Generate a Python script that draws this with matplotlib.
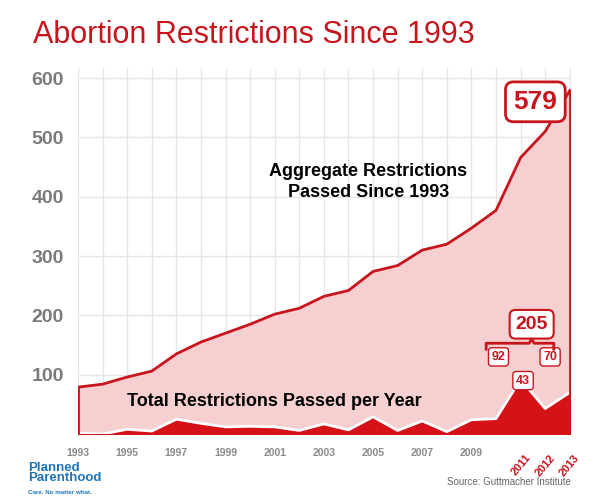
import matplotlib
matplotlib.use("Agg")
import matplotlib.pyplot as plt

plt.rcParams['font.family'] = ['Liberation Sans', 'DejaVu Sans']

years = list(range(1993, 2014))
aggregate = [79, 84, 96, 106, 135, 155, 170, 185, 202, 212, 232, 242, 274, 284, 310, 320, 347, 377, 466, 510, 579]
annual = [1, 0, 8, 5, 25, 18, 12, 13, 12, 6, 17, 7, 29, 6, 22, 4, 24, 26, 92, 43, 70]
tick_years = [1993, 1995, 1997, 1999, 2001, 2003, 2005, 2007, 2009]
red_years = [2011, 2012, 2013]
yticks = [100, 200, 300, 400, 500, 600]

RED = "#c8141c"
fig = plt.figure(figsize=(5.99, 5.03), dpi=100)
ax = fig.add_axes([78/599, 1-434/503, (571-78)/599, (434-68)/503])
ax.set_xlim(1993, 2013.05)
ax.set_ylim(0, 617)
for y in yticks:
    ax.axhline(y, color="#e6e6e6", lw=1, zorder=0)
for yr in years:
    ax.axvline(yr, color="#e6e6e6", lw=1, zorder=0)
ax.fill_between(years, aggregate, color="#f6cfd0", zorder=1)
ax.plot(years, aggregate, color=RED, lw=2, zorder=3)
ax.plot([1993, 1993], [0, aggregate[0]], color=RED, lw=2, zorder=3)
ax.plot([2013, 2013], [0, aggregate[-1]], color=RED, lw=2, zorder=3)
ax.fill_between(years, annual, color="#d41218", zorder=2)
ax.plot(years, annual, color="white", lw=2, zorder=2.5)
for s in ax.spines.values():
    s.set_visible(False)
ax.set_xticks([])
ax.set_yticks(yticks)
ax.set_yticklabels([str(v) for v in yticks], fontsize=14, fontweight="bold", color="#7a7a7a")
ax.tick_params(axis="y", length=0, pad=10)
tr = ax.get_xaxis_transform()
for yr in tick_years:
    ax.text(yr, -0.052, str(yr), transform=tr, ha="center", va="center", fontsize=7.5,
            fontweight="bold", color="#8a8a8a")
for yr in red_years:
    ax.text(yr, -0.085, str(yr), transform=tr, ha="center", va="center", fontsize=8, color=RED,
            fontweight="bold", rotation=50)

ax.text(2004.8, 425, "Aggregate Restrictions\nPassed Since 1993", ha="center", va="center",
        fontsize=13, fontweight="bold", color="black", linespacing=1.3)
ax.text(1995.0, 55, "Total Restrictions Passed per Year", ha="left", va="center",
        fontsize=13, fontweight="bold", color="black")

def box(x, y, txt, fs, pad=0.25, lw=1):
    ax.text(x, y, txt, ha="center", va="center", fontsize=fs, fontweight="bold", color=RED,
            bbox=dict(boxstyle=f"round,pad={pad}", fc="white", ec=RED, lw=lw), zorder=5)

box(2011.6, 560, "579", 19, 0.3, 2)
box(2011.45, 185, "205", 14, 0.3, 1.5)
box(2010.1, 130, "92", 9)
box(2012.2, 130, "70", 9)
box(2011.1, 90, "43", 9)
# brace
ax.plot([2009.6, 2009.6, 2011.35, 2011.45, 2011.55, 2012.35, 2012.35],
        [143, 153, 153, 160, 153, 153, 143], color=RED, lw=2, zorder=5)

fig.text(33/599, 1-35/503, "Abortion Restrictions Since 1993", fontsize=22, color=RED, va="center", ha="left")
fig.text(28/599, 1-473/503, "Planned\nParenthood", fontsize=9.5, color="#1a75bb", fontweight="bold", va="center", linespacing=0.85)
fig.text(28/599, 1-492/503, "Care. No matter what.", fontsize=4.5, color="#1a75bb", fontweight="bold", va="center")
fig.text(571/599, 1-482/503, "Source: Guttmacher Institute", fontsize=7, color="#666666", ha="right", va="center")
fig.savefig("out.png", dpi=100)
